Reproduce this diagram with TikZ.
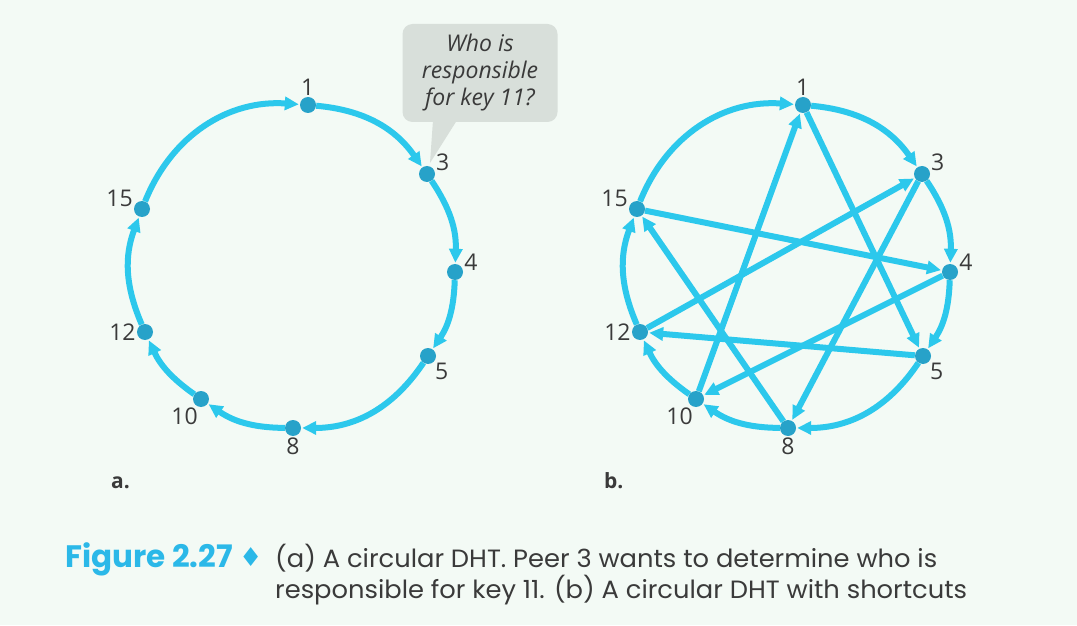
\documentclass[tikz,border=0pt]{standalone}
\usepackage{fontspec}
\setmainfont{Open Sans}
\newfontfamily\capfont[FakeStretch=1.03]{Poppins}
\newfontfamily\headfont{Poppins}
\newfontfamily\symfont{DejaVu Sans}
\usetikzlibrary{arrows.meta, positioning}
\definecolor{bgmint}{HTML}{F3FAF5}
\definecolor{ringcyan}{HTML}{2CC8EC}
\definecolor{peerblue}{HTML}{27A2C9}
\definecolor{bubblegray}{HTML}{D8DFDA}
\definecolor{textgray}{HTML}{3A3A3A}
\definecolor{figcyan}{HTML}{2BB8E8}

\begin{document}
\begin{tikzpicture}[x=1pt, y=1pt,
  peer/.style={circle, fill=peerblue, minimum size=16pt, inner sep=0pt,
               label distance=3.5pt},
  every label/.style={font=\fontsize{23}{27}\selectfont, text=textgray, inner sep=1pt},
  hop/.style={-{Triangle[length=14pt, width=13pt]}, line width=6pt,
              draw=ringcyan, shorten >=1pt},
  sub/.style={font=\fontsize{21}{24}\selectfont\bfseries, text=textgray,
              anchor=base west, inner sep=0pt},
]
%% --- background ---
\fill[bgmint] (0,0) rectangle (1077,625);
\useasboundingbox (0,0) rectangle (1077,625);

%% --- ring a ---
\node[peer, label=92:1]    (a1)  at (308,520) {};
\node[peer, label=18:3]    (a3)  at (427,451) {};
\node[peer, label=5:4]     (a4)  at (455,353) {};
\node[peer, label=-45:5]   (a5)  at (428,269) {};
\node[peer, label=-90:8]   (a8)  at (293,197) {};
\node[peer, label=-105:10] (a10) at (201,226) {};
\node[peer, label=180:12]  (a12) at (145,293) {};
\node[peer, label=172:15]  (a15) at (142,416) {};

\draw[hop] (a1)  to[bend left=25] (a3);
\draw[hop] (a3)  to[bend left=18] (a4);
\draw[hop] (a4)  to[bend left=16] (a5);
\draw[hop] (a5)  to[bend left=28] (a8);
\draw[hop] (a8)  to[bend left=17] (a10);
\draw[hop] (a10) to[bend left=15] (a12);
\draw[hop] (a12) to[bend left=22] (a15);
\draw[hop] (a15) to[bend left=36] (a1);

\node[sub] (lbla) at (111,137) {a.};

%% --- callout ---
\node[fill=bubblegray, rounded corners=10pt, minimum width=155pt,
      minimum height=98pt, align=center, text=textgray,
      font=\fontsize{23}{27}\selectfont\itshape] (ask) at (480,552)
  {Who is\\responsible\\for key 11?};
\fill[bubblegray] ([shift={(-47pt,2pt)}]ask.south) -- ([shift={(-23pt,2pt)}]ask.south)
  -- ([shift={(3pt,11pt)}]a3.center) -- cycle;

%% --- ring b ---
\node[peer, label=92:1]    (b1)  at (803,520) {};
\node[peer, label=18:3]    (b3)  at (922,451) {};
\node[peer, label=5:4]     (b4)  at (950,353) {};
\node[peer, label=-45:5]   (b5)  at (923,269) {};
\node[peer, label=-90:8]   (b8)  at (788,197) {};
\node[peer, label=-105:10] (b10) at (696,226) {};
\node[peer, label=180:12]  (b12) at (640,293) {};
\node[peer, label=172:15]  (b15) at (637,416) {};

\draw[hop] (b1)  to[bend left=25] (b3);
\draw[hop] (b3)  to[bend left=18] (b4);
\draw[hop] (b4)  to[bend left=16] (b5);
\draw[hop] (b5)  to[bend left=28] (b8);
\draw[hop] (b8)  to[bend left=17] (b10);
\draw[hop] (b10) to[bend left=15] (b12);
\draw[hop] (b12) to[bend left=22] (b15);
\draw[hop] (b15) to[bend left=36] (b1);

%% shortcuts
\draw[hop] (b1)  -- (b5);
\draw[hop] (b3)  -- (b8);
\draw[hop] (b4)  -- (b10);
\draw[hop] (b5)  -- (b12);
\draw[hop] (b8)  -- (b15);
\draw[hop] (b10) -- (b1);
\draw[hop] (b12) -- (b3);
\draw[hop] (b15) -- (b4);

\node[sub] (lblb) at (604,137) {b.};

%% --- caption ---
\node[anchor=base west, inner sep=0pt, text=figcyan,
      font=\fontsize{31}{36}\selectfont\headfont\bfseries] (fig) at (65,58) {Figure 2.27};
\node[anchor=base west, inner sep=0pt, text=figcyan,
      font=\fontsize{26}{30}\selectfont\symfont] (dia) at (239,59) {♦};
\node[anchor=base west, inner sep=0pt, text=textgray, align=left,
      font=\fontsize{25}{31}\selectfont\capfont] (cap) at (275,27)
  {(a) A circular DHT. Peer 3 wants to determine who is\\
   responsible for key 11. (b) A circular DHT with shortcuts};
\end{tikzpicture}
\end{document}
